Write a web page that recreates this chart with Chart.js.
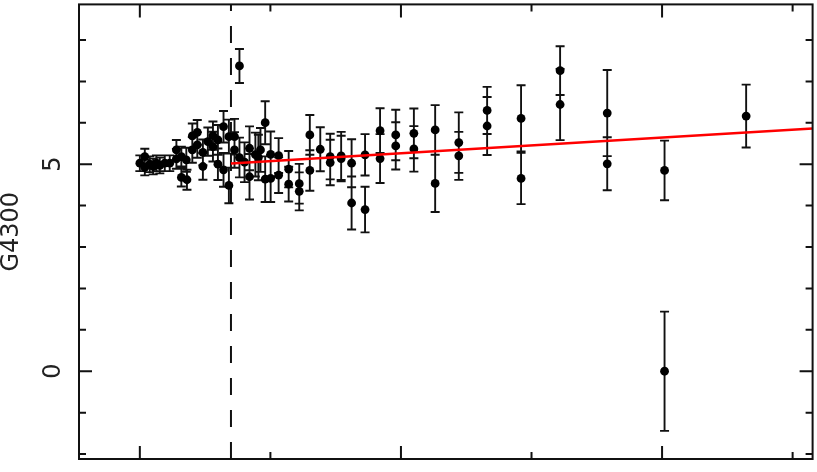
<!DOCTYPE html>
<html>
<head>
<meta charset="utf-8">
<script src="https://cdn.jsdelivr.net/npm/chart.js@4"></script>
<style>
  body { margin: 0; background: #fff; }
  #wrap { width: 817px; height: 472px; }
</style>
</head>
<body>
<div id="wrap"><canvas id="myChart"></canvas></div>
<script>
// measured points (x in axis units, G4300 index, 1-sigma error)
const xVals = [0.000, 0.038, 0.038, 0.076, 0.102, 0.127, 0.153, 0.191, 0.229, 0.280,
  0.280, 0.318, 0.318, 0.356, 0.361, 0.402, 0.402, 0.440, 0.440, 0.483,
  0.483, 0.521, 0.560, 0.560, 0.598, 0.598, 0.641, 0.641, 0.682, 0.682,
  0.725, 0.725, 0.763, 0.763, 0.802, 0.840, 0.840, 0.885, 0.924, 0.908,
  0.960, 0.960, 1.002, 1.002, 1.063, 1.063, 1.140, 1.140, 1.221, 1.221,
  1.302, 1.302, 1.382, 1.458, 1.458, 1.542, 1.542, 1.622, 1.622, 1.725,
  1.725, 1.840, 1.840, 1.960, 1.960, 2.099, 2.099, 2.262, 2.262, 2.443,
  2.443, 2.660, 2.660, 2.920, 2.920, 3.219, 3.219, 3.580, 3.580, 4.019,
  4.019, 4.644];
const yVals = [5.024, 5.185, 4.921, 5.000, 4.945, 5.024, 4.969, 5.024, 5.024, 5.346,
  5.130, 5.185, 4.680, 5.106, 4.625, 5.683, 5.346, 5.769, 5.466, 5.288,
  4.945, 5.546, 5.690, 5.425, 5.587, 5.000, 5.906, 4.865, 5.666, 4.488,
  5.666, 5.346, 7.373, 5.161, 5.048, 5.385, 4.697, 5.233, 5.346, 5.161,
  6.002, 4.639, 5.240, 4.656, 5.209, 4.736, 4.880, 4.519, 4.529, 4.344,
  5.707, 4.849, 5.361, 5.185, 5.041, 5.202, 5.137, 5.024, 4.063, 5.226,
  3.904, 5.810, 5.137, 5.707, 5.442, 5.745, 5.370, 5.827, 4.536, 5.522,
  5.202, 6.298, 5.923, 6.106, 4.656, 7.260, 6.442, 6.236, 5.010, 4.849,
  0.000, 6.163];
const yErr = [0.19, 0.19, 0.19, 0.19, 0.19, 0.19, 0.19, 0.19, 0.19, 0.24,
  0.24, 0.24, 0.22, 0.29, 0.24, 0.30, 0.31, 0.30, 0.31, 0.31,
  0.32, 0.34, 0.34, 0.36, 0.36, 0.38, 0.38, 0.41, 0.41, 0.43,
  0.43, 0.43, 0.41, 0.48, 0.48, 0.53, 0.55, 0.53, 0.53, 0.55,
  0.52, 0.55, 0.55, 0.57, 0.42, 0.43, 0.44, 0.42, 0.48, 0.46,
  0.48, 0.49, 0.53, 0.55, 0.55, 0.58, 0.55, 0.58, 0.64, 0.50,
  0.55, 0.54, 0.59, 0.61, 0.57, 0.60, 0.55, 0.60, 0.69, 0.73,
  0.58, 0.57, 0.70, 0.80, 0.62, 0.59, 0.86, 1.04, 0.64, 0.72,
  1.44, 0.76];

// linear fit (red) and the dashed marker position
const fitX = [0.698, 5.153];
const fitY = [5.02, 5.865];
const cutX = 0.698;

const xMin = -0.466, xMax = 5.153;
const yMin = -2.12, yMax = 8.86;
const yLabels = [0, 5];
const xMajor = [0, 2, 4];
const xMinor = [1, 3, 5];

const points = xVals.map((x, i) => ({ x: x, y: yVals[i] }));

// error bars + frame + ticks
const pgplotLook = {
    id: 'pgplotLook',
    beforeDatasetsDraw(chart) {
        const ctx = chart.ctx, xs = chart.scales.x, ys = chart.scales.y;
        const a = chart.chartArea;
        ctx.save();
        ctx.beginPath();
        ctx.rect(a.left, a.top, a.right - a.left, a.bottom - a.top);
        ctx.clip();
        ctx.strokeStyle = '#111';
        ctx.lineWidth = 1.9;
        ctx.beginPath();
        points.forEach((p, i) => {
            const px = xs.getPixelForValue(p.x);
            const t = ys.getPixelForValue(p.y + yErr[i]);
            const b = ys.getPixelForValue(p.y - yErr[i]);
            ctx.moveTo(px, t); ctx.lineTo(px, b);
            ctx.moveTo(px - 4.5, t); ctx.lineTo(px + 4.5, t);
            ctx.moveTo(px - 4.5, b); ctx.lineTo(px + 4.5, b);
        });
        ctx.stroke();
        ctx.restore();
    },
    afterDraw(chart) {
        const ctx = chart.ctx, xs = chart.scales.x, ys = chart.scales.y;
        const a = chart.chartArea;
        ctx.save();
        ctx.strokeStyle = '#111';
        ctx.lineWidth = 2;
        ctx.strokeRect(a.left, a.top, a.right - a.left, a.bottom - a.top);
        ctx.beginPath();
        for (let v = -2; v <= 8; v++) {
            const len = (v % 5 === 0) ? 13 : 7;
            const py = ys.getPixelForValue(v);
            ctx.moveTo(a.left, py); ctx.lineTo(a.left + len, py);
            ctx.moveTo(a.right, py); ctx.lineTo(a.right - len, py);
        }
        xMajor.concat(xMinor).forEach(v => {
            const len = xMajor.includes(v) ? 13 : 7;
            const px = xs.getPixelForValue(v);
            ctx.moveTo(px, a.bottom); ctx.lineTo(px, a.bottom - len);
            ctx.moveTo(px, a.top); ctx.lineTo(px, a.top + len);
        });
        ctx.stroke();

        // rotated y labels
        ctx.fillStyle = '#222';
        ctx.font = '24px "DejaVu Sans"';
        ctx.textAlign = 'center';
        ctx.textBaseline = 'middle';
        yLabels.forEach(v => {
            ctx.save();
            ctx.translate(54, ys.getPixelForValue(v));
            ctx.rotate(-Math.PI / 2);
            ctx.fillText(String(v), 0, 0);
            ctx.restore();
        });
        ctx.restore();
    }
};

const ctx = document.getElementById('myChart').getContext('2d');
const myChart = new Chart(ctx, {
    type: 'scatter',
    data: {
        datasets: [{
            type: 'line',
            data: fitX.map((x, i) => ({ x: x, y: fitY[i] })),
            borderColor: 'rgb(255, 0, 0)',
            borderWidth: 2.5,
            pointRadius: 0
        }, {
            data: points,
            backgroundColor: '#000',
            borderColor: '#000',
            pointRadius: 4.4,
            borderWidth: 0
        }, {
            type: 'line',
            data: [{ x: cutX, y: yMin }, { x: cutX, y: yMax }],
            borderColor: '#111',
            borderWidth: 2,
            borderDash: [17, 15],
            pointRadius: 0
        }]
    },
    options: {
        responsive: true,
        maintainAspectRatio: false,
        devicePixelRatio: 1,
        animation: false,
        layout: { padding: { top: 2, right: 2, left: 0, bottom: 0 } },
        scales: {
            x: {
                type: 'linear',
                min: xMin,
                max: xMax,
                grid: { display: false },
                border: { display: false },
                ticks: { display: false },
                afterFit(s) { s.height = 13; }
            },
            y: {
                type: 'linear',
                min: yMin,
                max: yMax,
                grid: { display: false },
                border: { display: false },
                ticks: { display: false },
                title: {
                    display: true,
                    text: 'G4300',
                    color: '#222',
                    font: { family: 'DejaVu Sans', size: 24, lineHeight: 1 },
                    padding: 0
                },
                afterFit(s) { s.width = 79; }
            }
        },
        plugins: {
            legend: { display: false },   // no legend in the original
            tooltip: { enabled: false }
        }
    },
    plugins: [pgplotLook]
});
</script>
</body>
</html>
